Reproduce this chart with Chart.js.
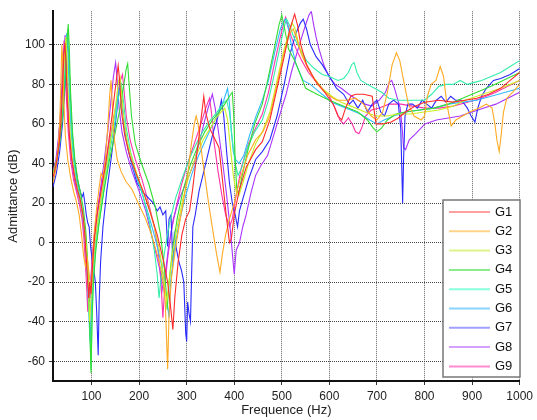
<!DOCTYPE html>
<html>
<head>
<meta charset="utf-8">
<script src="https://cdn.jsdelivr.net/npm/chart.js@4.4.0/dist/chart.umd.min.js"></script>
<style>
  html, body { margin: 0; padding: 0; background: #fff; }
  #wrap { width: 537px; height: 420px; }
</style>
</head>
<body>
<div id="wrap"><canvas id="canvas"></canvas></div>
<script>
// frequency (Hz), admittance (dB) pairs
const g1 = [[19,33],[26,40],[32,50],[36,62],[39,78],[42,96],[44,101],[46,92],[49,72],[53,55],[58,43],[64,34],[70,27],[76,22],[82,14],[86,4],[89,-8],[92,-20],[94,-28],[96,-20],[99,-26],[102,-12],[106,2],[112,14],[120,26],[130,40],[140,58],[148,74],[153,84],[156,89.5],[159,82],[163,66],[170,54],[180,44],[195,34],[210,25],[225,14],[238,4],[250,-8],[260,-20],[266,-32],[271,-44],[275,-28],[282,-10],[290,4],[298,12],[306,16],[312,26],[320,42],[328,58],[333,68],[336,74],[340,66],[348,58],[360,52],[368,48],[376,30],[384,12],[390,0],[394,2],[400,14],[410,26],[425,38],[445,47],[459,51],[475,62],[490,78],[505,94],[517,108],[527,115.5],[533,110],[540,100],[552,90],[570,82],[590,76],[608,70],[618,64],[626,62],[634,68],[645,74],[655,75],[672,75],[690,74],[698,60],[712,60],[730,61],[745,63],[760,66],[780,69],[800,71],[830,72],[860,71],[885,72],[910,73],[935,75],[960,78],[980,82],[1000,86]];
const g2 = [[19,30],[25,37],[30,48],[33,60],[35.5,80],[37.5,100],[39.5,92],[42,70],[45,54],[50,42],[56,33],[62,26],[68,21],[74,14],[79,4],[83,-6],[87,-12],[91,-8],[95,-16],[99,-24],[102,-10],[106,6],[111,18],[116,28],[120,35],[124,33],[129,42],[134,58],[138,74],[141,82],[144,68],[148,52],[154,42],[162,36],[172,31],[185,27],[198,20],[212,13],[226,4],[238,-6],[248,-16],[255,-30],[260,-64],[263,-36],[268,-18],[276,-4],[285,10],[294,22],[302,34],[310,50],[316,60],[320,64],[324,60],[330,48],[338,34],[346,20],[355,6],[363,-6],[370,-15],[375,-6],[382,4],[390,12],[400,20],[412,32],[428,44],[445,52],[460,56],[475,64],[490,80],[505,96],[517,106],[524,108],[530,104],[540,96],[555,88],[575,80],[595,75],[615,72],[635,72],[655,73],[672,70],[688,64],[700,62],[712,66],[722,76],[732,90],[741,96],[748,92],[756,82],[766,70],[778,64],[793,62],[800,64],[806,74],[814,80],[824,82],[833,89],[840,84],[847,70],[856,59],[866,62],[880,64],[895,66],[915,68],[930,70],[942,68],[948,60],[952,52],[957,46],[961,54],[966,66],[973,73],[985,76],[1000,80]];
const g3 = [[19,34],[26,41],[32,52],[37,66],[41,84],[44,98],[46,104],[48,96],[51,76],[55,56],[60,42],[66,32],[72,25],[78,19],[84,10],[89,-2],[93,-18],[96,-40],[99,-28],[103,-12],[108,2],[115,14],[124,28],[134,42],[144,58],[152,72],[157,82],[160,84],[163,76],[168,62],[176,50],[188,40],[202,30],[218,20],[232,8],[243,-4],[252,-18],[258,-30],[263,-20],[270,-6],[280,8],[292,22],[305,34],[320,44],[335,52],[350,58],[362,63],[372,66],[380,68],[386,62],[392,48],[398,34],[404,26],[410,24],[418,30],[430,40],[445,50],[459,56],[475,66],[490,82],[505,98],[515,106],[522,111],[528,108],[536,100],[548,92],[565,84],[585,78],[605,74],[625,71],[645,69],[665,67],[685,65],[700,64],[720,64],[745,65],[770,65],[800,66],[830,67],[860,69],[885,72],[910,74],[935,76],[960,78],[980,80],[1000,82]];
const g4 = [[19,35],[27,42],[34,52],[40,66],[45,84],[48,100],[51,110.5],[53,100],[56,76],[60,56],[65,42],[71,32],[77,25],[83,17],[88,6],[92,-10],[95,-30],[97,-50],[99,-66],[101,-40],[104,-20],[109,-4],[116,10],[126,26],[138,42],[150,56],[160,68],[168,80],[173,88],[176,90.5],[179,80],[184,64],[192,50],[205,40],[220,30],[234,18],[245,4],[252,-10],[256,-22],[259,-34],[263,-20],[270,-4],[280,12],[292,26],[306,38],[322,48],[338,56],[354,62],[368,66],[380,70],[390,74],[396,76],[399,64],[402,42],[405,28],[409,24],[415,32],[428,46],[443,60],[459,70],[472,84],[484,98],[494,110],[500,115],[506,108],[514,98],[529,91],[550,78],[574,75],[600,72],[620,70],[640,68],[660,66],[680,62],[692,58],[700,56],[710,58],[722,62],[740,65],[760,66],[790,67],[820,68],[850,70],[880,73],[910,76],[940,79],[965,82],[1000,86]];
const g5 = [[19,33],[26,40],[33,52],[39,68],[44,86],[47,100],[50,108],[52,98],[55,74],[59,54],[64,40],[70,30],[76,23],[82,15],[87,4],[91,-10],[94,-28],[97,-48],[99,-64],[101,-36],[104,-16],[110,0],[118,14],[128,30],[140,48],[150,62],[157,74],[163,80],[167,72],[173,58],[182,46],[195,34],[210,22],[222,10],[232,-4],[238,-16],[242,-28],[246,-18],[254,-4],[264,10],[276,22],[290,32],[305,42],[320,50],[336,57],[350,62],[364,66],[375,70],[384,72],[390,66],[396,52],[402,40],[408,34],[416,38],[428,48],[443,56],[459,62],[472,72],[485,86],[497,100],[506,110],[510,113],[516,110],[525,104],[538,98],[552,92],[568,88],[585,85],[600,84],[618,82],[630,83],[640,86],[647,90],[652,91],[658,86],[666,82],[680,80],[695,78],[710,76],[725,73],[745,72],[770,72],[800,72],[815,75],[830,79],[845,80],[860,80],[875,82],[890,80],[905,81],[920,82],[940,84],[960,86],[980,89],[1000,92]];
const g6 = [[19,32],[26,39],[33,50],[38,64],[43,82],[46,98],[48,106],[50,98],[53,76],[57,56],[62,42],[68,31],[74,24],[80,16],[86,4],[90,-10],[93,-28],[95,-40],[97,-50],[100,-30],[104,-10],[110,4],[118,18],[128,34],[140,52],[150,66],[156,76],[160,80],[164,72],[170,58],[178,46],[190,36],[205,26],[220,14],[234,2],[246,-10],[255,-22],[260,-32],[263,-38],[266,-20],[274,-4],[284,10],[296,22],[310,34],[325,44],[340,52],[355,60],[368,66],[378,72],[386,78],[390,70],[394,56],[398,46],[403,42],[410,40],[420,44],[432,54],[446,64],[459,72],[472,82],[485,96],[497,108],[504,112],[508,113],[514,108],[520,100],[530,90],[545,82],[560,80],[575,77],[590,74],[605,71],[625,69],[645,67],[665,65],[685,62],[700,60],[715,62],[735,64],[760,66],[790,67],[820,68],[850,70],[880,71],[910,72],[940,74],[970,76],[1000,78]];
const g7 = [[19,28],[26,35],[33,46],[39,60],[44,78],[47,94],[50,103],[52,96],[55,76],[59,56],[64,42],[70,32],[76,26],[80,23],[83,25],[86,20],[89,14],[92,10],[95,8],[98,-2],[101,-8],[104,-12],[108,-20],[111,-36],[114,-57],[116,-30],[119,-10],[124,8],[132,26],[142,44],[150,60],[156,72],[160,82],[163,74],[168,60],[176,48],[186,38],[196,30],[206,26],[214,24],[222,22],[230,20],[238,16],[244,18],[250,14],[256,16],[260,-2],[263,12],[267,14],[271,-10],[274,4],[279,-4],[284,-10],[289,-14],[294,-20],[298,-46],[300,-50],[302,-30],[305,-36],[308,-40],[310,-20],[313,8],[318,14],[326,26],[336,36],[346,46],[356,56],[366,64],[373,72],[378,64],[384,46],[390,30],[396,20],[402,14],[407,8],[411,16],[418,22],[430,32],[445,42],[459,46],[475,52],[490,64],[505,80],[518,96],[530,106],[539,111],[545,113],[552,108],[560,100],[572,94],[585,90],[600,84],[615,78],[630,75],[642,70],[650,72],[660,68],[670,72],[680,66],[690,70],[700,72],[708,66],[716,64],[725,70],[735,72],[745,70],[750,58],[752,40],[754,20],[756,42],[759,64],[765,70],[775,70],[785,68],[795,72],[805,70],[815,68],[825,72],[835,74],[845,71],[855,74],[865,72],[878,72],[890,68],[898,64],[906,61],[912,68],[920,74],[930,78],[945,82],[960,83],[980,85],[1000,88]];
const g8 = [[19,36],[25,42],[30,52],[35,66],[39,84],[42,98],[44.6,105],[47,94],[50,74],[54,54],[59,40],[65,31],[72,24],[78,18],[84,8],[88,-4],[91,-16],[94,-24],[96,-30],[99,-18],[103,-4],[109,10],[117,24],[126,40],[134,56],[141,72],[146,84],[150.6,91],[154,82],[158,68],[164,56],[173,46],[185,36],[200,26],[214,16],[226,4],[236,-6],[244,-14],[250,-24],[255,-16],[262,-2],[272,12],[284,22],[295,28],[305,34],[315,40],[326,50],[336,60],[345,68],[354,75],[360,68],[368,54],[376,40],[384,24],[392,6],[397,-8],[400,-16],[404,-4],[411,0],[418,8],[425,14],[435,25],[445,34],[456,39],[470,44],[485,56],[500,68],[509,75],[520,86],[532,96],[542,104],[550,110],[557,115],[562,117],[567,110],[572,104],[578,98],[588,90],[599,84],[612,80],[625,78],[641,75],[660,72],[675,70],[689,69],[705,72],[718,76],[726,81],[731,82],[737,78],[744,72],[749,68],[753,58],[756,48],[760,47],[768,52],[781,55],[801,60],[825,62],[850,63],[875,64],[900,66],[925,68],[950,70],[975,73],[1000,76]];
const g9 = [[19,34],[26,41],[31,52],[35,66],[38,82],[40.5,96],[42,102],[44,94],[47,74],[51,56],[56,42],[62,32],[68,26],[74,20],[80,12],[84,2],[87,-10],[90,-24],[92,-35],[94,-22],[97,-28],[100,-12],[105,2],[112,16],[122,30],[134,46],[146,62],[155,74],[161,82],[165,85],[168,78],[173,64],[181,52],[192,42],[206,32],[220,20],[232,8],[240,-4],[246,-20],[250,-38],[254,-22],[260,-8],[268,6],[278,18],[290,30],[302,40],[316,50],[330,60],[340,68],[348,73],[352,66],[358,50],[366,36],[374,24],[382,14],[390,8],[396,12],[404,24],[415,38],[430,50],[445,58],[459,65],[472,76],[484,90],[495,102],[503,110],[508,114],[513,110],[520,104],[530,98],[542,92],[556,86],[570,82],[585,78],[600,74],[612,68],[622,62],[630,60],[640,63],[648,60],[655,56],[662,55],[668,58],[676,64],[688,67],[705,68],[725,70],[750,70],[775,69],[800,68],[830,68],[860,69],[890,71],[920,73],[950,76],[975,79],[1000,82]];

const seriesNames = ['G1', 'G2', 'G3', 'G4', 'G5', 'G6', 'G7', 'G8', 'G9'];
const seriesData = [g1, g2, g3, g4, g5, g6, g7, g8, g9];
const lineColors = ['#ff2a2a', '#ffaa22', '#ccee22', '#33dd33', '#33eeaa', '#33bbff', '#2a2aff', '#aa33ff', '#ff33aa'];
const legendColors = ['#ffa0a0', '#ffd48a', '#dcf58a', '#8aec8a', '#8affdc', '#8ad4ff', '#a0a0ff', '#d6a0ff', '#ff8ad0'];

const xTitle = 'Frequence (Hz)';
const yTitle = 'Admittance (dB)';
const FONT = '"Liberation Sans", Arial, sans-serif';

// legend box drawn inside the plot, lower right
const boxLegend = {
  id: 'boxLegend',
  afterDraw(chart) {
    const ctx = chart.ctx;
    const x0 = 443, y0 = 200, w = 77, h = 177;
    ctx.save();
    ctx.fillStyle = '#fff';
    ctx.fillRect(x0, y0, w, h);
    ctx.strokeStyle = '#777';
    ctx.lineWidth = 1.5;
    ctx.strokeRect(x0, y0, w, h);
    ctx.font = '13px ' + FONT;
    ctx.textBaseline = 'middle';
    for (let i = 0; i < seriesNames.length; i++) {
      const y = y0 + 12 + i * 19.3;
      ctx.strokeStyle = legendColors[i];
      ctx.lineWidth = 2;
      ctx.beginPath();
      ctx.moveTo(x0 + 6, y);
      ctx.lineTo(x0 + 47, y);
      ctx.stroke();
      ctx.fillStyle = '#111';
      ctx.fillText(seriesNames[i], x0 + 52, y);
    }
    ctx.restore();
  }
};

const ctx = document.getElementById('canvas');
new Chart(ctx, {
  type: 'line',
  data: {
    datasets: seriesData.map((pts, i) => ({
      label: seriesNames[i],
      data: pts.map(p => ({ x: p[0], y: p[1] })),
      borderColor: lineColors[i],
      borderWidth: 1.1,
      pointRadius: 0,
      tension: 0,
      fill: false
    }))
  },
  options: {
    responsive: true,
    maintainAspectRatio: false,
    animation: false,
    layout: { padding: { top: 11, right: 15, left: 0, bottom: 0 } },
    plugins: {
      legend: { display: false },
      tooltip: { enabled: false }
    },
    scales: {
      x: {
        type: 'linear',
        min: 19,
        max: 1000,
        afterFit: s => { s.height = 39; },
        ticks: { stepSize: 100, includeBounds: false, color: '#222', padding: 4, font: { family: FONT, size: 12 }, callback: v => String(v) },
        grid: { color: '#666', lineWidth: 1, tickLength: 4, tickColor: '#333', borderDash: [1, 2] },
        border: { display: true, color: '#111', width: 2, dash: [1, 1] },
        title: { display: true, text: xTitle, color: '#222', font: { family: FONT, size: 13 }, padding: { top: 0, bottom: 2 } }
      },
      y: {
        min: -70,
        max: 117,
        afterFit: s => { s.width = 53; },
        ticks: { stepSize: 20, includeBounds: false, color: '#222', padding: 4, font: { family: FONT, size: 12 }, callback: v => String(v) },
        grid: { color: '#444', lineWidth: 1, tickLength: 4, tickColor: '#333', borderDash: [2, 2] },
        border: { display: true, color: '#111', width: 2, dash: [1, 1] },
        title: { display: true, text: yTitle, color: '#222', font: { family: FONT, size: 13 }, padding: { top: 6, bottom: 0 } }
      }
    }
  },
  plugins: [boxLegend]
});
</script>
</body>
</html>
